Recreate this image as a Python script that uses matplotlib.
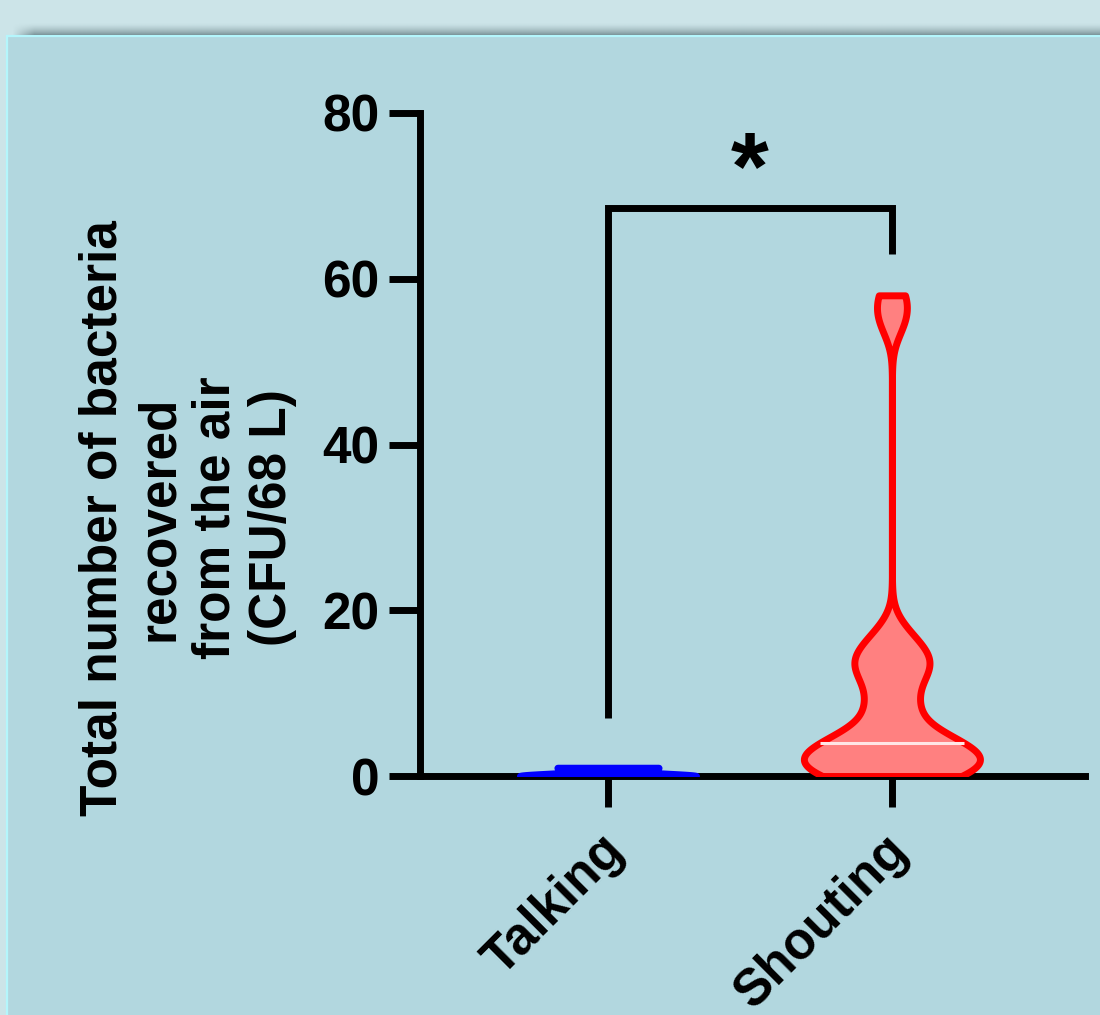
#!/usr/bin/env python
# coding: utf-8

"""
Violin plot: bacteria recovered from the air, talking vs shouting
"""

import numpy as np
import matplotlib
matplotlib.use('Agg')
import matplotlib.pyplot as plt
from matplotlib.patches import Rectangle
from matplotlib.transforms import ScaledTranslation

# data (CFU / 68 L per volunteer)
groups = ['Talking', 'Shouting']
talking = [0, 0, 0, 0, 0, 0, 0, 1, 1, 1, 1]
shouting = [0, 0, 0, 1, 1, 2, 2, 3, 3, 4, 4, 5, 8, 9,
            12, 13, 14, 15, 17, 55, 58]
y_ticks = [0, 20, 40, 60, 80]
y_label = 'Total number of bacteria\nrecovered\nfrom the air\n(CFU/68 L)'
signif = '*'

# colours
OUTER_BG = '#cce4e8'
PANEL_BG = '#b2d7df'
PANEL_EDGE = '#b4f6fc'
TALK_COLOR = '#0000ff'
SHOUT_FACE = '#ff8080'
SHOUT_EDGE = '#ff0000'

W, H = 1100, 1015
LW = 5.0

plt.rcParams['font.family'] = ['Liberation Sans', 'DejaVu Sans']
plt.rcParams['font.weight'] = 'bold'

fig = plt.figure(figsize=(W / 100, H / 100), dpi=100, facecolor=OUTER_BG)

# panel behind the chart
panel = Rectangle((7 / W, -0.01), 1.0, 1 - 36 / H + 0.01, transform=fig.transFigure,
                  facecolor=PANEL_BG, edgecolor=PANEL_EDGE, linewidth=1.6, zorder=-5)
fig.add_artist(panel)

# soft shadow above the panel
sh_ax = fig.add_axes([10 / W, 1 - 35 / H, 1 - 10 / W, 13 / H], zorder=-4)
sh_ax.set_axis_off()
vert = np.linspace(0, 1, 13) ** 1.6
horiz = np.clip(np.arange(200) / 4.0, 0, 1)
rgba = np.zeros((13, 200, 4))
rgba[..., 0] = 0.40
rgba[..., 1] = 0.50
rgba[..., 2] = 0.52
rgba[..., 3] = 0.75 * vert[:, None] * horiz[None, :]
sh_ax.imshow(rgba, aspect='auto', interpolation='bilinear')

# main axes
ax = fig.add_axes([420 / W, (H - 776) / H, 665 / W, 663 / H])
ax.set_facecolor('none')
ax.set_xlim(-0.662, 1.680)
ax.set_ylim(0, 80)

for side in ['top', 'right']:
    ax.spines[side].set_visible(False)
for side in ['left', 'bottom']:
    ax.spines[side].set_linewidth(LW)
    ax.spines[side].set_color('black')
ax.spines['left'].set_capstyle('projecting')


def bw_sigma(sigma):
    # fixed kernel width in data units
    return lambda kde: sigma / np.std(kde.dataset, ddof=1)


# violins
vp_t = ax.violinplot([talking], positions=[0], widths=0.62, showextrema=False,
                     bw_method=bw_sigma(0.3), points=300)
vp_s = ax.violinplot([shouting], positions=[1], widths=0.62, showextrema=False,
                     bw_method=bw_sigma(2.2), points=600)

for body in vp_t['bodies']:
    body.set_facecolor(TALK_COLOR)
    body.set_edgecolor(TALK_COLOR)
    body.set_alpha(1)
    body.set_linewidth(LW)
    body.set_zorder(3)
for body in vp_s['bodies']:
    body.set_facecolor(SHOUT_FACE)
    body.set_edgecolor(SHOUT_EDGE)
    body.set_alpha(1)
    body.set_linewidth(LW)
    body.set_zorder(3)

# median line of the shouting violin, as wide as the violin at that height
med = np.median(shouting)
verts = vp_s['bodies'][0].get_paths()[0].vertices
right = verts[verts[:, 0] > 1]
order = np.argsort(right[:, 1])
half = np.interp(med, right[order, 1], right[order, 0]) - 1
ax.plot([1 - half, 1 + half], [med, med], color='#ffe6e6', lw=2.2, zorder=3.5,
        solid_capstyle='butt')

# ticks
ax.set_yticks(y_ticks)
ax.set_yticklabels([str(v) for v in y_ticks])
ax.set_xticks([0, 1])
ax.set_xticklabels(groups, rotation=45, ha='right', va='top', rotation_mode='anchor')
ax.tick_params(axis='both', width=LW, length=22, color='black', labelsize=37)
ax.tick_params(axis='y', pad=7)
ax.tick_params(axis='x', pad=14)
shift = ScaledTranslation(-9 / 100, 0, fig.dpi_scale_trans)
for lbl in ax.get_xticklabels():
    lbl.set_transform(lbl.get_transform() + shift)

# significance bracket
top = 68.5
ax.plot([0, 0, 1, 1], [max(talking) + 6, top, top, max(shouting) + 5],
        color='black', lw=LW, solid_joinstyle='miter', solid_capstyle='butt',
        clip_on=False, zorder=4)
ax.text(0.5, 72.6, signif, ha='center', va='center', fontsize=70, fontweight='bold')

# y label
fig.text(188 / W, 1 - 518 / H, y_label, rotation=90, ha='center', va='center',
         fontsize=37, fontweight='bold', multialignment='center', linespacing=1.2)

fig.savefig('out.png', dpi=100, facecolor=OUTER_BG)
